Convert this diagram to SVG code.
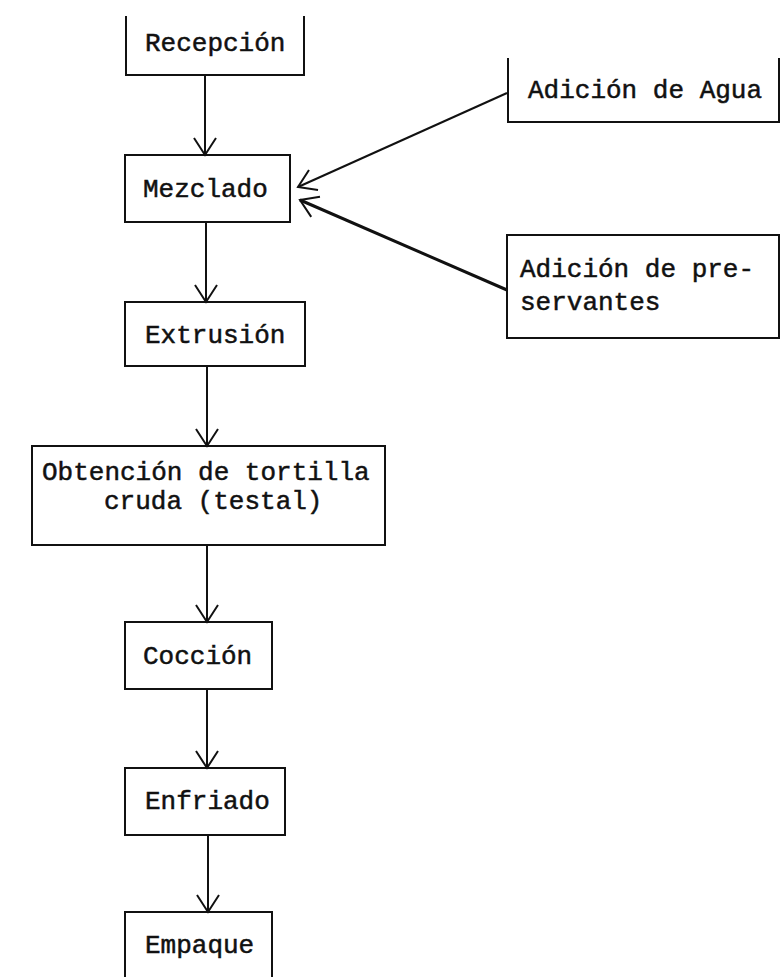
<svg xmlns="http://www.w3.org/2000/svg" width="782" height="977" viewBox="0 0 782 977">
  <style>
    .box { fill: none; stroke: #111; stroke-width: 2; }
    .lbl { font-family: "Liberation Mono", "DejaVu Sans Mono", monospace; font-size: 26px; fill: #111; stroke: #111; stroke-width: 0.5; }
    .flow { fill: none; stroke: #111; stroke-width: 2; }
    .thick { stroke-width: 3; }
  </style>
  <defs>
    <marker id="arrow" markerUnits="userSpaceOnUse" markerWidth="22" markerHeight="26" refX="18" refY="12" orient="auto">
      <path d="M1,1 L18,12 L1,23" fill="none" stroke="#111" stroke-width="2"/>
    </marker>
  </defs>
  <rect width="782" height="977" fill="#fff"/>

  <!-- process steps -->
  <g id="recepcion">
    <path class="box" d="M126,16 V75 H304 V16"/>
    <text class="lbl" x="145" y="51">Recepción</text>
  </g>
  <g id="mezclado">
    <rect class="box" x="125" y="155" width="165" height="67"/>
    <text class="lbl" x="143" y="197">Mezclado</text>
  </g>
  <g id="extrusion">
    <rect class="box" x="125" y="302" width="180" height="64"/>
    <text class="lbl" x="145" y="343">Extrusión</text>
  </g>
  <g id="obtencion">
    <rect class="box" x="32" y="446" width="353" height="99"/>
    <text class="lbl" x="42" y="480">Obtención de tortilla</text>
    <text class="lbl" x="104" y="509">cruda (testal)</text>
  </g>
  <g id="coccion">
    <rect class="box" x="125" y="622" width="147" height="67"/>
    <text class="lbl" x="143" y="664">Cocción</text>
  </g>
  <g id="enfriado">
    <rect class="box" x="125" y="768" width="160" height="67"/>
    <text class="lbl" x="145" y="809">Enfriado</text>
  </g>
  <g id="empaque">
    <path class="box" d="M125,977 V912 H272 V977"/>
    <text class="lbl" x="145" y="953">Empaque</text>
  </g>

  <!-- inputs -->
  <g id="agua">
    <path class="box" d="M508,58 V122 H779 V58"/>
    <text class="lbl" x="528" y="98">Adición de Agua</text>
  </g>
  <g id="preservantes">
    <rect class="box" x="507" y="235" width="272" height="103"/>
    <text class="lbl" x="520" y="277">Adición de pre-</text>
    <text class="lbl" x="520" y="310">servantes</text>
  </g>

  <!-- connectors -->
  <g id="connectors">
    <line class="flow" x1="205" y1="75" x2="205" y2="155" marker-end="url(#arrow)"/>
    <line class="flow" x1="206" y1="222" x2="206" y2="302" marker-end="url(#arrow)"/>
    <line class="flow" x1="207" y1="366" x2="207" y2="446" marker-end="url(#arrow)"/>
    <line class="flow" x1="207" y1="545" x2="207" y2="622" marker-end="url(#arrow)"/>
    <line class="flow" x1="207" y1="689" x2="207" y2="768" marker-end="url(#arrow)"/>
    <line class="flow" x1="208" y1="835" x2="208" y2="912" marker-end="url(#arrow)"/>
    <line class="flow" x1="507" y1="93" x2="298" y2="187" marker-end="url(#arrow)"/>
    <line class="flow thick" x1="507" y1="290" x2="300" y2="200" marker-end="url(#arrow)"/>
  </g>
</svg>
